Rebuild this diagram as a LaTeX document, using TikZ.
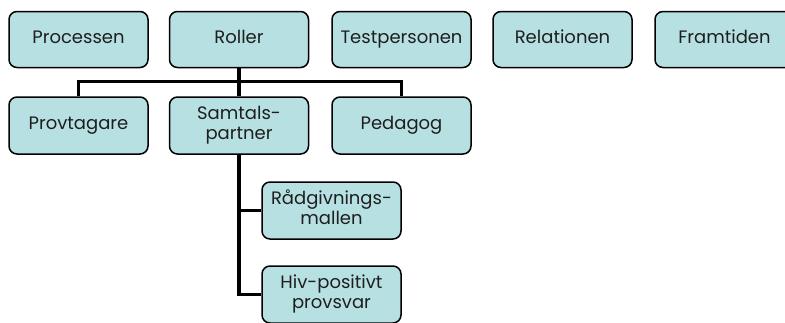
\documentclass[tikz,border=0pt]{standalone}
\usepackage{fontspec}
\setmainfont{Poppins}
\usetikzlibrary{calc}
\definecolor{boxfill}{RGB}{183,224,227}
\definecolor{txt}{RGB}{30,30,30}
\newcommand{\boxline}[1]{\strut#1}
\begin{document}
\begin{tikzpicture}[x=1pt,y=-1pt,
  box/.style={draw=black, line width=1.5pt, fill=boxfill, rounded corners=8pt,
    minimum width=139pt, minimum height=56pt, inner sep=0pt, align=center,
    text=txt, font=\fontsize{18}{20}\selectfont},
  conn/.style={draw=black, line width=3.6pt}]
\useasboundingbox (0,0) rectangle (785,322);
\clip (0,0) rectangle (785,322);
\fill[white] (0,0) rectangle (785,322);
% top row
\node[box] (proc) at (78.5,39.5) {\boxline{Processen}};
\node[box] (roll) at (239,39.5) {\boxline{Roller}};
\node[box] (test) at (401.5,39.5) {\boxline{Testpersonen}};
\node[box] (rel)  at (562.5,39.5) {\boxline{Relationen}};
\node[box] (fram) at (724.5,39.5) {\boxline{Framtiden}};
% second row
\path (78.5,125.5) coordinate (provc) (239,125.5) coordinate (samtc) (401.5,125.5) coordinate (pedc)
      (331.5,210.5) coordinate (radc) (331.5,294.5) coordinate (hivc);
\node[box, minimum height=57pt] (prov) at (provc) {\boxline{Provtagare}};
\node[box, minimum height=57pt] (samt) at (samtc) {\boxline{Samtals-}\\\boxline{partner}};
\node[box, minimum height=57pt] (ped) at (pedc) {\boxline{Pedagog}};
\node[box, minimum height=57pt] (rad) at (radc) {\boxline{Rådgivnings-}\\\boxline{mallen}};
\node[box, minimum height=57pt] (hiv) at (hivc) {\boxline{Hiv-positivt}\\\boxline{provsvar}};
% connectors
\coordinate (jn) at ($(roll.south)!0.47!(samt.north)$);
\draw[conn] (roll.south) -- (samt.north);
\draw[conn] (prov.north) |- (jn) -| (ped.north);
\draw[conn] (samt.south) |- (rad.west);
\draw[conn] (samt.south) |- (hiv.west);
\end{tikzpicture}
\end{document}
